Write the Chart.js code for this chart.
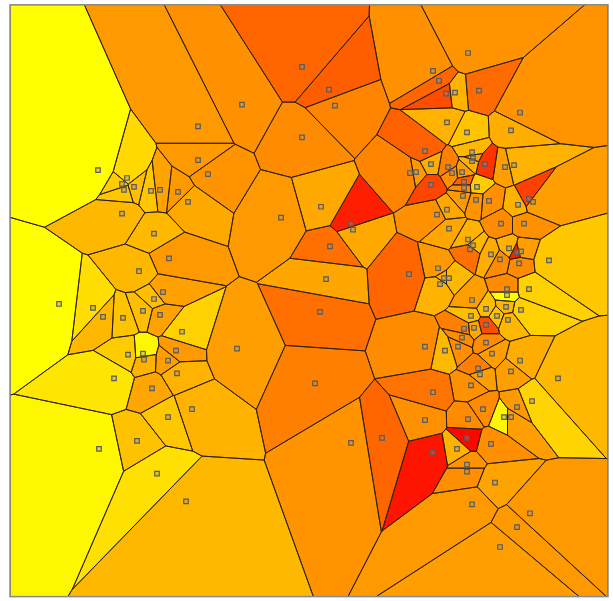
<!DOCTYPE html>
<html lang="en">
<head>
    <meta charset="UTF-8">
    <title>Voronoi heat map</title>
    <script src="https://cdn.jsdelivr.net/npm/chart.js"></script>
    <style>
        html, body { margin: 0; padding: 0; background: #fff; }
        #wrap { width: 613px; height: 601px; }
    </style>
</head>
<body>
    <div id="wrap"><canvas id="voronoiChart" width="613" height="601"></canvas></div>

    <script>
        // sites: [x, y, heat]  heat 0 = red ... 1 = yellow
        // y is measured downward from the top of the frame
        const westSites = [
            [98, 167, 1.0], [59, 302, 1.0], [99, 448, 0.97],
            [127, 175, 0.85], [122, 181, 0.8], [124, 187, 0.78], [134, 184, 0.75],
            [151, 188, 0.78], [160, 187, 0.64], [178, 189, 0.6], [188, 199, 0.66],
            [198, 123, 0.6], [198, 157, 0.6], [122, 211, 0.72], [154, 231, 0.73],
            [169, 256, 0.6], [139, 269, 0.72], [163, 290, 0.63], [154, 297, 0.75],
            [93, 306, 0.87], [103, 315, 0.72], [123, 316, 0.77], [143, 309, 0.75],
            [160, 313, 0.63], [182, 330, 0.82], [176, 349, 0.6], [128, 353, 0.8],
            [143, 352, 0.97], [144, 358, 0.7], [168, 359, 0.62], [177, 372, 0.7],
            [114, 377, 0.9], [152, 387, 0.65], [192, 408, 0.7], [168, 416, 0.78],
            [137, 440, 0.76], [157, 473, 0.88], [186, 501, 0.72]
        ];

        const centralSites = [
            [242, 101, 0.57], [302, 63, 0.4], [329, 86, 0.37], [335, 102, 0.52],
            [302, 134, 0.55], [208, 171, 0.58], [281, 215, 0.6], [321, 204, 0.66],
            [351, 221, 0.12], [353, 227, 0.66], [330, 244, 0.44], [326, 277, 0.65],
            [320, 310, 0.44], [237, 347, 0.62], [315, 382, 0.5], [351, 442, 0.58],
            [382, 437, 0.4], [409, 272, 0.4]
        ];

        const northEastSites = [
            [468, 49, 0.58], [433, 67, 0.57], [439, 77, 0.4], [446, 90, 0.3],
            [455, 89, 0.7], [479, 87, 0.42], [520, 109, 0.58], [447, 119, 0.7],
            [467, 129, 0.77], [511, 127, 0.68], [425, 148, 0.38], [472, 149, 0.72],
            [473, 155, 0.65], [472, 158, 0.7], [431, 161, 0.68], [448, 164, 0.5],
            [485, 161, 0.2], [505, 164, 0.62], [514, 162, 0.7], [410, 170, 0.52],
            [416, 169, 0.6], [452, 170, 0.56], [462, 169, 0.62], [431, 182, 0.27],
            [464, 179, 0.38], [464, 185, 0.55], [477, 184, 0.8], [463, 193, 0.6],
            [476, 197, 0.58], [489, 198, 0.57], [518, 202, 0.7], [529, 196, 0.25],
            [533, 199, 0.62], [447, 207, 0.66]
        ];

        const eastSites = [
            [437, 212, 0.57], [449, 226, 0.65], [468, 237, 0.7], [473, 243, 0.72],
            [470, 247, 0.44], [491, 252, 0.68], [500, 257, 0.55], [509, 246, 0.7],
            [517, 250, 0.12], [521, 249, 0.62], [519, 261, 0.55], [501, 221, 0.55],
            [524, 221, 0.57], [549, 258, 0.78], [438, 266, 0.6], [444, 276, 0.68],
            [449, 276, 0.72], [440, 282, 0.7], [507, 287, 0.55], [507, 293, 1.0],
            [529, 287, 0.82], [472, 298, 0.62], [486, 307, 0.75], [506, 305, 0.72],
            [521, 308, 0.82], [471, 314, 0.75], [497, 314, 0.76], [508, 318, 0.72],
            [486, 323, 0.3]
        ];

        const southEastSites = [
            [464, 327, 0.5], [474, 326, 0.66], [462, 336, 0.55], [425, 345, 0.55],
            [445, 349, 0.72], [458, 345, 0.56], [486, 341, 0.55], [492, 352, 0.62],
            [520, 359, 0.68], [478, 367, 0.5], [480, 373, 0.62], [511, 370, 0.62],
            [558, 377, 0.72], [471, 384, 0.57], [433, 391, 0.45], [532, 400, 0.83],
            [483, 408, 0.55], [517, 406, 0.6], [504, 416, 0.97], [511, 416, 0.62],
            [425, 419, 0.57], [468, 418, 0.55], [467, 437, 0.02], [433, 452, 0.08],
            [457, 448, 0.7], [491, 443, 0.56], [467, 464, 0.58], [467, 471, 0.56],
            [495, 482, 0.64], [472, 504, 0.6], [530, 513, 0.6], [517, 527, 0.6],
            [500, 547, 0.62]
        ];

        const xRange = [10, 608];
        const yRange = [0, 597];

        const sites = [].concat(westSites, centralSites, northEastSites, eastSites, southEastSites);

        function heatColor(h) {
            return `rgb(255, ${Math.round(255 * h)}, 0)`;
        }

        // keep the part of poly that is closer to a than to b
        function clipHalfPlane(poly, a, b) {
            const mx = (a[0] + b[0]) / 2, my = (a[1] + b[1]) / 2;
            const nx = b[0] - a[0], ny = b[1] - a[1];
            const out = [];
            for (let i = 0; i < poly.length; i++) {
                const p = poly[i], q = poly[(i + 1) % poly.length];
                const dp = (p[0] - mx) * nx + (p[1] - my) * ny;
                const dq = (q[0] - mx) * nx + (q[1] - my) * ny;
                if (dp <= 0) out.push(p);
                if ((dp < 0 && dq > 0) || (dp > 0 && dq < 0)) {
                    const t = dp / (dp - dq);
                    out.push([p[0] + t * (q[0] - p[0]), p[1] + t * (q[1] - p[1])]);
                }
            }
            return out;
        }

        function voronoiCells() {
            const box = [[xRange[0], yRange[0]], [xRange[1], yRange[0]], [xRange[1], yRange[1]], [xRange[0], yRange[1]]];
            return sites.map((s, i) => {
                let poly = box;
                sites.forEach((o, j) => {
                    if (i === j || poly.length === 0) return;
                    if (o[0] === s[0] && o[1] === s[1]) return;
                    poly = clipHalfPlane(poly, s, o);
                });
                return { poly: poly, heat: s[2] };
            });
        }

        const cells = voronoiCells();

        const cellPlugin = {
            id: 'voronoiCells',
            beforeDatasetsDraw(chart) {
                const { ctx, chartArea, scales } = chart;
                ctx.save();
                ctx.beginPath();
                ctx.rect(chartArea.left, chartArea.top, chartArea.width, chartArea.height);
                ctx.clip();
                cells.forEach(c => {
                    if (c.poly.length < 3) return;
                    ctx.beginPath();
                    c.poly.forEach((p, k) => {
                        const px = scales.x.getPixelForValue(p[0]);
                        const py = scales.y.getPixelForValue(p[1]);
                        if (k === 0) ctx.moveTo(px, py); else ctx.lineTo(px, py);
                    });
                    ctx.closePath();
                    ctx.fillStyle = heatColor(c.heat);
                    ctx.fill();
                });
                ctx.strokeStyle = 'rgba(45, 30, 0, 0.9)';
                ctx.lineWidth = 1;
                cells.forEach(c => {
                    if (c.poly.length < 3) return;
                    ctx.beginPath();
                    c.poly.forEach((p, k) => {
                        const px = scales.x.getPixelForValue(p[0]);
                        const py = scales.y.getPixelForValue(p[1]);
                        if (k === 0) ctx.moveTo(px, py); else ctx.lineTo(px, py);
                    });
                    ctx.closePath();
                    ctx.stroke();
                });
                ctx.restore();
            },
            afterDraw(chart) {
                const { ctx, chartArea } = chart;
                ctx.save();
                ctx.strokeStyle = '#8a8a8a';
                ctx.lineWidth = 1.5;
                ctx.strokeRect(chartArea.left, chartArea.top + 0.5, chartArea.width, chartArea.height - 0.5);
                ctx.restore();
            }
        };

        new Chart(document.getElementById('voronoiChart'), {
            type: 'scatter',
            data: {
                datasets: [{
                    data: sites.map(s => ({ x: s[0], y: s[1] })),
                    pointStyle: 'rect',
                    pointRadius: 3.2,
                    pointHoverRadius: 3.2,
                    borderColor: '#5a5a5a',
                    borderWidth: 1.2,
                    backgroundColor: 'rgba(150, 150, 150, 0.35)'
                }]
            },
            options: {
                responsive: false,
                animation: false,
                layout: { padding: { left: 10, right: 5, top: 0, bottom: 4 } },
                plugins: { legend: { display: false }, tooltip: { enabled: false } },
                scales: {
                    x: { type: 'linear', min: xRange[0], max: xRange[1], display: false },
                    y: { type: 'linear', min: yRange[0], max: yRange[1], reverse: true, display: false }
                }
            },
            plugins: [cellPlugin]
        });
    </script>
</body>
</html>
